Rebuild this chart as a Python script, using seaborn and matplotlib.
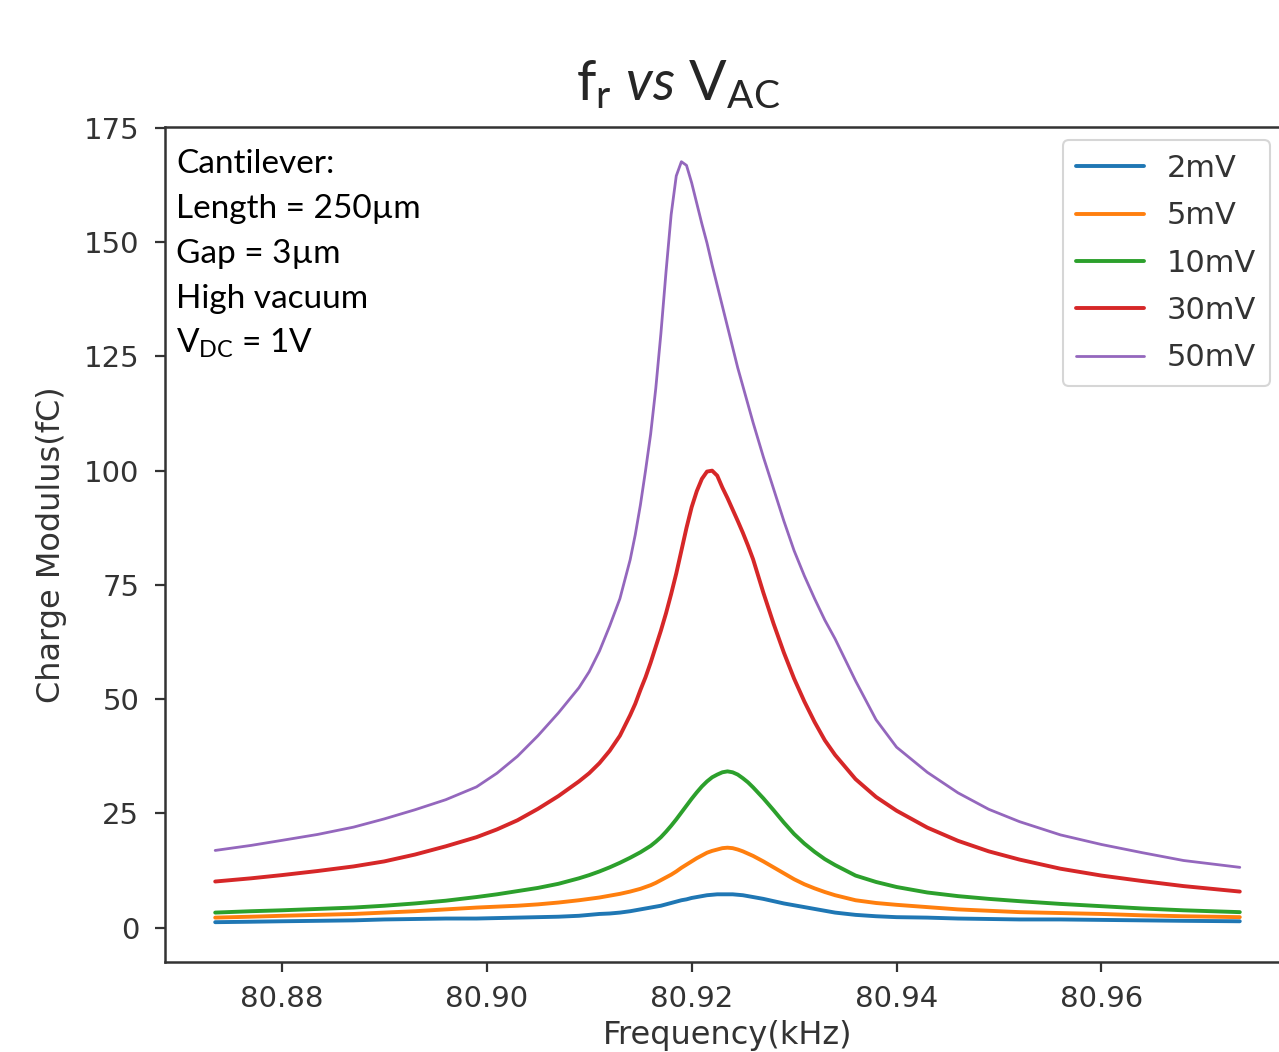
import matplotlib
matplotlib.use('Agg')
import matplotlib.pyplot as plt
import seaborn as sns

# frequency sweep (kHz) and charge modulus (fC)
freq_khz = [80.8735, 80.877, 80.880, 80.8835, 80.887, 80.890, 80.893, 80.896, 80.899, 80.901,
            80.903, 80.905, 80.907, 80.909, 80.910, 80.911, 80.912, 80.913, 80.914, 80.9145,
            80.915, 80.9155, 80.916, 80.9165, 80.917, 80.9175, 80.918, 80.9185, 80.919, 80.9195,
            80.920, 80.9205, 80.921, 80.9215, 80.922, 80.9225, 80.923, 80.9235, 80.924, 80.9245,
            80.925, 80.9255, 80.926, 80.927, 80.928, 80.929, 80.930, 80.931, 80.932, 80.933,
            80.934, 80.936, 80.938, 80.940, 80.943, 80.946, 80.949, 80.952, 80.956, 80.960,
            80.964, 80.968, 80.9735]

q_2mv = [1.2, 1.3, 1.4, 1.5, 1.6, 1.8, 1.9, 2.0, 2.0, 2.1,
         2.2, 2.3, 2.4, 2.6, 2.8, 3.0, 3.1, 3.3, 3.6, 3.8,
         4.0, 4.2, 4.4, 4.6, 4.8, 5.1, 5.4, 5.7, 6.0, 6.2,
         6.5, 6.7, 6.9, 7.1, 7.2, 7.3, 7.3, 7.3, 7.3, 7.2,
         7.1, 6.9, 6.7, 6.3, 5.8, 5.3, 4.9, 4.5, 4.1, 3.7,
         3.3, 2.8, 2.5, 2.3, 2.2, 2.0, 1.9, 1.8, 1.8, 1.7,
         1.6, 1.5, 1.4]

q_5mv = [2.2, 2.4, 2.6, 2.8, 3.0, 3.3, 3.6, 4.0, 4.4, 4.6,
         4.8, 5.1, 5.5, 6.0, 6.3, 6.6, 7.0, 7.4, 7.9, 8.2,
         8.5, 8.9, 9.3, 9.8, 10.4, 11.0, 11.6, 12.3, 13.1, 13.8,
         14.5, 15.2, 15.8, 16.4, 16.8, 17.1, 17.4, 17.5, 17.4, 17.1,
         16.7, 16.2, 15.7, 14.5, 13.2, 11.9, 10.6, 9.5, 8.6, 7.8,
         7.1, 6.0, 5.4, 5.0, 4.5, 4.0, 3.7, 3.4, 3.2, 3.0,
         2.7, 2.5, 2.3]

q_10mv = [3.3, 3.6, 3.8, 4.1, 4.4, 4.8, 5.3, 5.9, 6.7, 7.3,
          8.0, 8.7, 9.6, 10.8, 11.5, 12.3, 13.2, 14.2, 15.3, 15.9,
          16.5, 17.2, 17.9, 18.8, 19.8, 21.0, 22.3, 23.7, 25.2, 26.7,
          28.2, 29.6, 30.9, 32.0, 32.9, 33.5, 34.0, 34.2, 34.0, 33.5,
          32.7, 31.8, 30.7, 28.3, 25.7, 23.0, 20.5, 18.4, 16.6, 15.0,
          13.7, 11.4, 10.0, 8.9, 7.7, 6.9, 6.3, 5.8, 5.2, 4.7,
          4.2, 3.8, 3.4]

q_30mv = [10.1, 10.8, 11.5, 12.4, 13.4, 14.5, 16.0, 17.8, 19.8, 21.5,
          23.5, 26.0, 28.8, 32.0, 33.8, 36.0, 38.7, 42.0, 46.5, 49.0,
          52.0, 54.8, 58.0, 61.5, 65.0, 68.8, 73.0, 77.5, 82.5, 87.5,
          92.0, 95.5, 98.2, 99.8, 100.0, 98.9, 96.3, 94.0, 91.5, 89.0,
          86.4, 83.6, 80.6, 73.3, 66.5, 60.2, 54.5, 49.5, 45.0, 41.0,
          37.8, 32.5, 28.6, 25.6, 21.9, 19.0, 16.7, 14.9, 12.9, 11.4,
          10.2, 9.1, 7.9]

q_50mv = [16.9, 18.0, 19.1, 20.4, 22.0, 23.8, 25.8, 28.0, 30.8, 33.8,
          37.5, 42.0, 47.0, 52.5, 56.0, 60.5, 66.0, 72.0, 80.5, 86.0,
          92.5, 100.0, 108.0, 118.0, 130.0, 143.5, 156.0, 164.5, 167.6, 166.8,
          163.0, 158.5, 154.0, 149.8, 145.0, 140.5, 136.0, 131.5, 127.0, 122.5,
          118.5, 114.5, 110.5, 103.0, 96.0, 89.0, 82.5, 77.0, 72.0, 67.3,
          63.2, 54.0, 45.5, 39.5, 34.0, 29.5, 25.9, 23.2, 20.3, 18.2,
          16.4, 14.7, 13.2]

series_labels = ['2mV', '5mV', '10mV', '30mV', '50mV']
series_values = [q_2mv, q_5mv, q_10mv, q_30mv, q_50mv]
colors = ['#1f77b4', '#ff7f0e', '#2ca02c', '#d62728', '#9467bd']
widths = [2.8, 2.8, 2.8, 2.8, 2.0]

sns.set_theme(style='ticks')
plt.rcParams['font.family'] = ['DejaVu Sans']
plt.rcParams['mathtext.fontset'] = 'custom'
plt.rcParams['mathtext.rm'] = 'Lato'
plt.rcParams['mathtext.it'] = 'Lato:italic'

fig = plt.figure(figsize=(12.79, 10.52), dpi=100)
ax = fig.add_axes([0.129, 0.0856, 0.8796, 0.7937])

for lab, vals, col, lw in zip(series_labels, series_values, colors, widths):
    sns.lineplot(x=freq_khz, y=vals, color=col, linewidth=lw, label=lab, ax=ax)

ax.set_xlim(80.8686, 80.9784)
ax.set_ylim(-7.5, 175.2)
ax.set_xticks([80.88, 80.90, 80.92, 80.94, 80.96])
ax.set_xticklabels(['80.88', '80.90', '80.92', '80.94', '80.96'])
ax.set_yticks([0, 25, 50, 75, 100, 125, 150, 175])

for sp in ax.spines.values():
    sp.set_linewidth(1.8)
    sp.set_color('#333333')
ax.tick_params(labelsize=21, length=7.5, width=1.6, colors='#333333')
ax.tick_params(axis='x', pad=9)
ax.tick_params(axis='y', pad=11)

ax.set_xlabel('Frequency(kHz)', fontsize=23, color='#333333', labelpad=5)
ax.set_ylabel('Charge Modulus(fC)', fontsize=23, color='#333333', labelpad=12)

leg = ax.legend(loc='upper right', bbox_to_anchor=(0.982, 0.984), borderaxespad=0,
                fontsize=22, frameon=True, fancybox=True, labelspacing=0.6,
                handlelength=2.2, handletextpad=0.75, borderpad=0.45)
leg.get_frame().set_edgecolor('#cccccc')
leg.get_frame().set_linewidth(1.5)
for t in leg.get_texts():
    t.set_color('#333333')

# cantilever notes, one line each
notes = ['Cantilever:', 'Length = 250\u00b5m', 'Gap = 3\u00b5m', 'High vacuum',
         r'$\mathregular{V_{DC}}$ = 1V']
for i, line in enumerate(notes):
    ax.text(0.0098, 0.945 - i * 0.0539, line, transform=ax.transAxes,
            family='Lato', fontsize=24, va='baseline', ha='left', color='black')

fig.text(0.530, 0.905, r'$\mathregular{f_r}$ $\mathit{vs}$ $\mathregular{V_{AC}}$',
         family='Lato', fontsize=40, ha='center', va='baseline')

fig.savefig('out.png', dpi=100)
